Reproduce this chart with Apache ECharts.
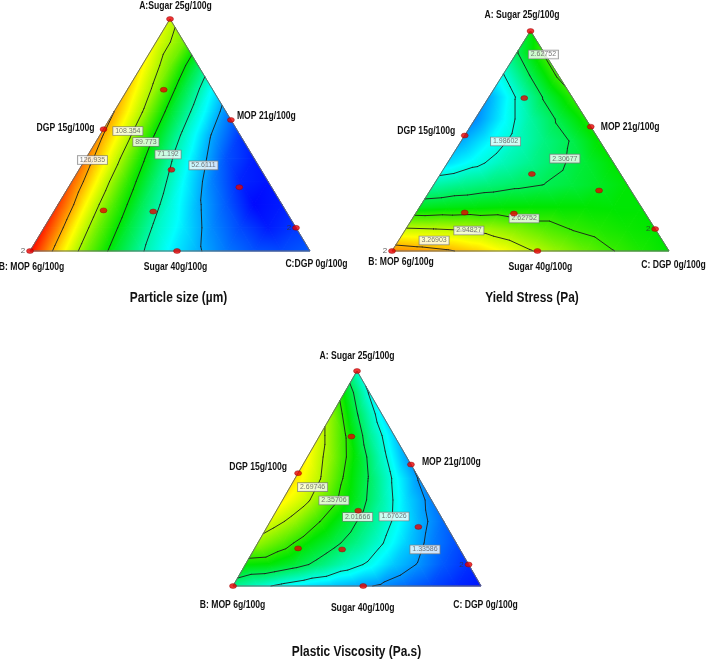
<!DOCTYPE html>
<html><head><meta charset="utf-8">
<script src="https://cdn.jsdelivr.net/npm/echarts@6/dist/echarts.min.js"></script>
<style>html,body{margin:0;padding:0;background:#fff}#main{width:708px;height:663px}</style>
</head><body><div id="main"></div>
<script>
// ================= DATA =================
// Design points in ternary fractions: A = Sugar, C = DGP (B = MOP = 1 - A - C)
const designA = [1, 0.695, 0.525, 0.565, 0.35, 0.275, 0.175, 0.17, 0.1, 0, 0];
const designC = [0, 0.13, 0, 0.435, 0.33, 0.61, 0.175, 0.355, 0.9, 0, 0.525];
const runLabels12 = ['', '', '', '', '', '', '', '', '2', '2', ''];
const runLabels3  = ['', '', '', '', '', '', '', '', '2', '', ''];

// Surface values on a ternary grid: row i -> A = i/10, entry k -> C = k/10
const particleSize = [
  [145, 122.5, 103, 86, 72, 61, 53.5, 47, 43, 42, 44],
  [142, 120, 100.5, 83.5, 69, 59, 49, 42, 37, 40],
  [139, 117.5, 98, 80.5, 66, 53.7, 44, 35, 37],
  [135, 115.3, 95, 77, 61.6, 48, 38, 36],
  [132, 113.2, 91.8, 72.7, 56.9, 43, 37],
  [129, 111, 88.4, 68.8, 52, 40],
  [127, 108.8, 85.6, 66, 49],
  [123, 105.5, 82.6, 62],
  [119, 102.2, 80],
  [115, 102],
  [112]
];
const yieldStress = [
  [3.38, 3.34, 3.29, 3.21, 3.09, 2.96, 2.84, 2.73, 2.63, 2.56, 2.50],
  [2.97, 2.95, 2.93, 2.88, 2.80, 2.70, 2.62, 2.57, 2.53, 2.50],
  [2.42, 2.45, 2.47, 2.49, 2.50, 2.50, 2.50, 2.49, 2.49],
  [2.11, 2.17, 2.22, 2.27, 2.31, 2.36, 2.42, 2.49],
  [1.82, 1.94, 2.07, 2.17, 2.28, 2.38, 2.50],
  [1.70, 1.88, 2.04, 2.20, 2.32, 2.52],
  [1.62, 1.88, 2.12, 2.33, 2.55],
  [1.70, 2.00, 2.33, 2.60],
  [1.97, 2.32, 2.66],
  [2.29, 2.65],
  [2.45]
];
const plasticViscosity = [
  [1.88, 1.74, 1.62, 1.52, 1.45, 1.38, 1.31, 1.22, 1.13, 1.05, 1.00],
  [2.25, 2.22, 2.10, 1.95, 1.78, 1.64, 1.45, 1.32, 1.17, 1.07],
  [2.62, 2.45, 2.24, 2.08, 1.90, 1.69, 1.47, 1.28, 1.15],
  [2.80, 2.62, 2.36, 2.13, 1.90, 1.65, 1.40, 1.22],
  [2.92, 2.73, 2.42, 2.14, 1.82, 1.50, 1.28],
  [2.96, 2.71, 2.33, 2.00, 1.64, 1.32],
  [2.90, 2.58, 2.19, 1.75, 1.36],
  [2.78, 2.38, 1.88, 1.48],
  [2.58, 2.03, 1.55],
  [2.22, 1.65],
  [1.74]
];

// Contour levels
const particleLevels = [52.6111, 71.192, 89.773, 108.354, 126.935];
const yieldLevels = [1.98602, 2.30677, 2.62752, 2.94827, 3.26903];
const viscLevels = [1.33586, 1.67626, 2.01666, 2.35706, 2.69746];

// Colour ranges (blue -> red)
const particleRange = [34, 145.5];
const yieldRange = [1.30, 3.70];
const viscRange = [0.95, 3.53];

// Contour label texts and their ternary positions
const particleLabelText = ['126.935', '108.354', '89.773', '71.192', '52.6111'];
const particleLabelA = [0.392, 0.517, 0.470, 0.416, 0.369];
const particleLabelC = [0.027, 0.091, 0.179, 0.285, 0.435];
const yieldLabelText = ['2.62752', '1.98602', '2.30677', '2.62752', '2.94827', '3.26903'];
const yieldLabelA = [0.893, 0.498, 0.420, 0.148, 0.093, 0.048];
const yieldLabelC = [0.100, 0.161, 0.414, 0.403, 0.231, 0.128];
const viscLabelText = ['2.69746', '2.35706', '2.01666', '1.67626', '1.33586'];
const viscLabelA = [0.460, 0.398, 0.321, 0.323, 0.170];
const viscLabelC = [0.091, 0.208, 0.342, 0.488, 0.689];

// Axis / corner texts
const cornerText1 = ['A:Sugar 25g/100g', 'B: MOP 6g/100g', 'C:DGP 0g/100g'];
const cornerText23 = ['A: Sugar 25g/100g', 'B: MOP 6g/100g', 'C: DGP 0g/100g'];
const edgeText = ['DGP 15g/100g', 'MOP 21g/100g', 'Sugar 40g/100g'];
const titles = ['Particle size (\u00b5m)', 'Yield Stress (Pa)', 'Plastic Viscosity (Pa.s)'];

// ================= RENDERING =================
const FONT = '"Liberation Sans", Arial, sans-serif';
const CMAP = [[0, 0, 255], [0, 255, 255], [0, 230, 0], [255, 255, 0], [255, 0, 0]];
function cmap(v, lo, hi) {
  let t = (v - lo) / (hi - lo); t = Math.max(0, Math.min(1, t));
  const s = t * 4, i = Math.min(3, Math.floor(s)), f = s - i;
  const a = CMAP[i], b = CMAP[i + 1];
  return 'rgb(' + Math.round(a[0] + (b[0] - a[0]) * f) + ',' + Math.round(a[1] + (b[1] - a[1]) * f) + ',' + Math.round(a[2] + (b[2] - a[2]) * f) + ')';
}
function tern(a, c) { return [c + a / 2, a]; }

function buildMesh(rows) {
  const n = rows.length - 1, pts = [], idx = [], tris = [];
  for (let i = 0; i <= n; i++) { idx[i] = []; for (let k = 0; k <= n - i; k++) { idx[i][k] = pts.length; pts.push({ a: i / n, c: k / n, v: rows[i][k] }); } }
  for (let i = 0; i < n; i++) for (let k = 0; k <= n - 1 - i; k++) {
    tris.push([idx[i][k], idx[i][k + 1], idx[i + 1][k]]);
    if (k <= n - 2 - i) tris.push([idx[i][k + 1], idx[i + 1][k + 1], idx[i + 1][k]]);
  }
  return { pts, tris };
}

function triFill(P, V, lo, hi) {
  const dx1 = P[1][0] - P[0][0], dy1 = P[1][1] - P[0][1], dv1 = V[1] - V[0];
  const dx2 = P[2][0] - P[0][0], dy2 = P[2][1] - P[0][1], dv2 = V[2] - V[0];
  const det = dx1 * dy2 - dx2 * dy1;
  const gx = (dv1 * dy2 - dv2 * dy1) / det, gy = (dx1 * dv2 - dx2 * dv1) / det;
  const g2 = gx * gx + gy * gy;
  const vmin = Math.min.apply(null, V), vmax = Math.max.apply(null, V);
  if (!isFinite(g2) || g2 < 1e-14 || vmax - vmin < 1e-9) return cmap((vmin + vmax) / 2, lo, hi);
  const s0 = (vmin - V[0]) / g2, s1 = (vmax - V[0]) / g2;
  const tv = [0, 1];
  for (let b = 1; b < 4; b++) { const vb = lo + (hi - lo) * b / 4; if (vb > vmin && vb < vmax) tv.push((vb - vmin) / (vmax - vmin)); }
  tv.sort((p, q) => p - q);
  const stops = tv.map(t => ({ offset: t, color: cmap(vmin + t * (vmax - vmin), lo, hi) }));
  return new echarts.graphic.LinearGradient(P[0][0] + gx * s0, P[0][1] + gy * s0, P[0][0] + gx * s1, P[0][1] + gy * s1, stops, true);
}

function chartSeries(gi, rows, range, levels, lblText, lblA, lblC, runLabels) {
  const mesh = buildMesh(rows);
  const lo = range[0], hi = range[1];
  const centroid = t => { const q = t.map(j => mesh.pts[j]); return tern((q[0].a + q[1].a + q[2].a) / 3, (q[0].c + q[1].c + q[2].c) / 3); };
  const base = { coordinateSystem: 'cartesian2d', xAxisIndex: gi, yAxisIndex: gi, silent: true, animation: false };
  const out = [];
  out.push(Object.assign({}, base, {
    type: 'custom', z: 1, data: mesh.tris.map(centroid),
    renderItem: function (params, api) {
      const tri = mesh.tris[params.dataIndex];
      const P = tri.map(j => { const q = mesh.pts[j]; return api.coord(tern(q.a, q.c)); });
      const V = tri.map(j => mesh.pts[j].v);
      const f = triFill(P, V, lo, hi);
      return { type: 'polygon', shape: { points: P }, style: { fill: f, stroke: f, lineWidth: 0.7 } };
    }
  }));
  out.push(Object.assign({}, base, {
    type: 'custom', z: 2, data: mesh.tris.map(centroid),
    renderItem: function (params, api) {
      const tri = mesh.tris[params.dataIndex];
      const q = tri.map(j => mesh.pts[j]);
      const P = q.map(p => api.coord(tern(p.a, p.c)));
      const children = [];
      levels.forEach(L => {
        const cr = [];
        for (let e = 0; e < 3; e++) {
          const i0 = e, i1 = (e + 1) % 3, v0 = q[i0].v - L, v1 = q[i1].v - L;
          if ((v0 < 0 && v1 >= 0) || (v0 >= 0 && v1 < 0)) {
            const t = v0 / (v0 - v1);
            cr.push([P[i0][0] + t * (P[i1][0] - P[i0][0]), P[i0][1] + t * (P[i1][1] - P[i0][1])]);
          }
        }
        if (cr.length === 2) children.push({ type: 'line', shape: { x1: cr[0][0], y1: cr[0][1], x2: cr[1][0], y2: cr[1][1] }, style: { stroke: '#1c1c1c', lineWidth: 0.9, lineCap: 'round' } });
      });
      return { type: 'group', children: children };
    }
  }));
  out.push(Object.assign({}, base, {
    type: 'custom', z: 3, data: [tern(1 / 3, 1 / 3)],
    renderItem: function (params, api) {
      const pts = [api.coord(tern(0, 0)), api.coord(tern(0, 1)), api.coord(tern(1, 0))];
      return { type: 'polygon', shape: { points: pts }, style: { fill: 'none', stroke: '#6a6a6a', lineWidth: 1 } };
    }
  }));
  out.push(Object.assign({}, base, {
    type: 'scatter', z: 4, symbolSize: 1, itemStyle: { color: 'rgba(0,0,0,0)' },
    data: lblA.map((a, i) => tern(a, lblC[i])),
    label: { show: true, position: 'inside', formatter: p => lblText[p.dataIndex], backgroundColor: '#ffffff', borderColor: '#7a7a7a', borderWidth: 0.8, padding: [1, 2, 0, 2], fontSize: 7, lineHeight: 7, color: '#555', fontFamily: FONT }
  }));
  out.push(Object.assign({}, base, {
    type: 'scatter', z: 5, symbol: 'circle', symbolSize: [7, 5],
    itemStyle: { color: '#e80000', borderColor: '#8a0000', borderWidth: 0.5 },
    data: designA.map((a, i) => tern(a, designC[i])),
    label: { show: true, position: 'left', distance: 1, formatter: p => runLabels[p.dataIndex], fontSize: 8, color: '#333', fontFamily: FONT }
  }));
  return out;
}

const series = [].concat(
  chartSeries(0, particleSize, particleRange, particleLevels, particleLabelText, particleLabelA, particleLabelC, runLabels12),
  chartSeries(1, yieldStress, yieldRange, yieldLevels, yieldLabelText, yieldLabelA, yieldLabelC, runLabels12),
  chartSeries(2, plasticViscosity, viscRange, viscLevels, viscLabelText, viscLabelA, viscLabelC, runLabels3)
);

const grids = [
  { left: 30, top: 19, width: 280, height: 232 },
  { left: 392, top: 31, width: 277, height: 220 },
  { left: 233, top: 371, width: 248, height: 215 }
];

const chart = echarts.init(document.getElementById('main'));
chart.setOption({
  backgroundColor: '#ffffff',
  animation: false,
  grid: grids,
  xAxis: grids.map((g, i) => ({ type: 'value', gridIndex: i, min: 0, max: 1, show: false })),
  yAxis: grids.map((g, i) => ({ type: 'value', gridIndex: i, min: 0, max: 1, show: false })),
  series: series
});

// Texts placed relative to ternary anchors converted by the axes
const cornerSets = [cornerText1, cornerText23, cornerText23];
const textOffsets = [
  [[5.5, -12.5], [1.5, 16], [6.5, 13.5], [-9, -1], [6, -4], [-1.5, 16]],
  [[-8.5, -16], [9, 11.5], [4.5, 14], [-9.5, -4.5], [10, 0], [3, 16]],
  [[0, -15], [-0.5, 19], [4.5, 19], [-11, -6], [11, -2.5], [-0.5, 22.5]]
];
const titleAnchorOffset = [[8.5, 47], [1.5, 47], [-0.5, 66]];
const aligns = ['center', 'center', 'center', 'right', 'left', 'center'];
const anchorsTern = [[1, 0], [0, 0], [0, 1], [designA[2], designC[2]], [designA[3], designC[3]], [designA[10], designC[10]]];
const graphics = [];
for (let gi = 0; gi < 3; gi++) {
  const texts = cornerSets[gi].concat(edgeText);
  anchorsTern.forEach((t, i) => {
    const p = chart.convertToPixel({ gridIndex: gi }, tern(t[0], t[1]));
    graphics.push({
      type: 'text', x: p[0] + textOffsets[gi][i][0], y: p[1] + textOffsets[gi][i][1], scaleX: 0.82, silent: true, z: 10,
      style: { text: texts[i], align: aligns[i], verticalAlign: 'middle', fontSize: 10.5, fontWeight: 'bold', fontFamily: FONT, fill: '#111' }
    });
  });
  const mid = chart.convertToPixel({ gridIndex: gi }, tern(0, 0.5));
  graphics.push({
    type: 'text', x: mid[0] + titleAnchorOffset[gi][0], y: mid[1] + titleAnchorOffset[gi][1], scaleX: 0.82, silent: true, z: 10,
    style: { text: titles[gi], align: 'center', verticalAlign: 'middle', fontSize: 14.5, fontWeight: 'bold', fontFamily: FONT, fill: '#111' }
  });
}
chart.setOption({ graphic: graphics });
</script>
</body></html>
